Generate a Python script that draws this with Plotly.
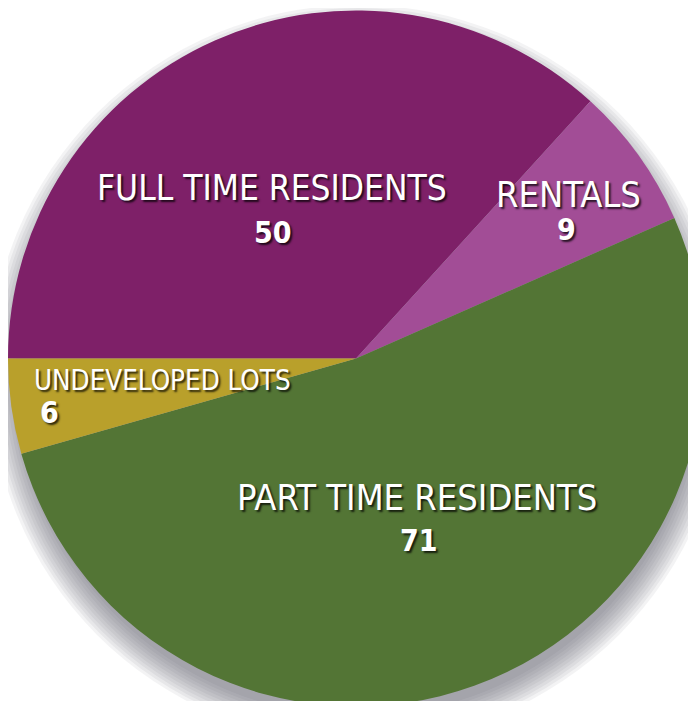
import plotly.graph_objects as go

labels = ["FULL TIME RESIDENTS", "RENTALS", "PART TIME RESIDENTS", "UNDEVELOPED LOTS"]
values = [50, 9, 71, 6]
colors = ["#7E2068", "#A24D96", "#537535", "#B9A02B"]

W, H = 696, 701

fig = go.Figure()
fig.add_trace(go.Pie(
    labels=labels, values=values, sort=False, direction="clockwise",
    rotation=-90, marker=dict(colors=colors, line=dict(width=0)),
    textinfo="none", hoverinfo="label+value", showlegend=False,
    domain=dict(x=[0, 1], y=[0, 1]),
))

# soft drop shadow behind the pie (stacked translucent rings)
scx, scy = 350, 366
for rad in range(342, 372, 3):
    fig.add_shape(
        type="circle", xref="paper", yref="paper", layer="below",
        x0=(scx - rad) / W, x1=(scx + rad) / W,
        y0=1 - (scy + rad) / H, y1=1 - (scy - rad) / H,
        fillcolor="rgba(90,90,100,0.07)", line=dict(width=0),
    )

# label positions in pixels (label line, value line, anchor)
label_pos = {
    "FULL TIME RESIDENTS": ((264, 180), (265, 224), "center"),
    "RENTALS": ((560, 186), (558, 222), "center"),
    "UNDEVELOPED LOTS": ((24, 372), (30, 404), "left"),
    "PART TIME RESIDENTS": ((409, 489), (411, 532), "center"),
}
sizes = {"FULL TIME RESIDENTS": 35, "RENTALS": 36, "UNDEVELOPED LOTS": 27.5, "PART TIME RESIDENTS": 36}

shadow = "2px 2px 2px rgba(0,0,0,0.75)"
fam = "DejaVu Sans Condensed, Liberation Sans Narrow, Arial Narrow, sans-serif"
for lab, val in zip(labels, values):
    (lx, ly), (vx, vy), anc = label_pos[lab]
    fig.add_annotation(
        x=lx / W, y=1 - ly / H, xref="paper", yref="paper", text=lab,
        showarrow=False, xanchor=anc, yanchor="middle",
        font=dict(family=fam, size=sizes[lab], color="white", shadow=shadow),
    )
    fig.add_annotation(
        x=vx / W, y=1 - vy / H, xref="paper", yref="paper", text=f"<b>{val}</b>",
        showarrow=False, xanchor=anc, yanchor="middle",
        font=dict(family=fam, size=30, color="white", shadow=shadow),
    )

fig.update_layout(
    width=W, height=H, margin=dict(l=0, r=0, t=0, b=0),
    paper_bgcolor="white", plot_bgcolor="white",
)
fig.write_html("out.html")
